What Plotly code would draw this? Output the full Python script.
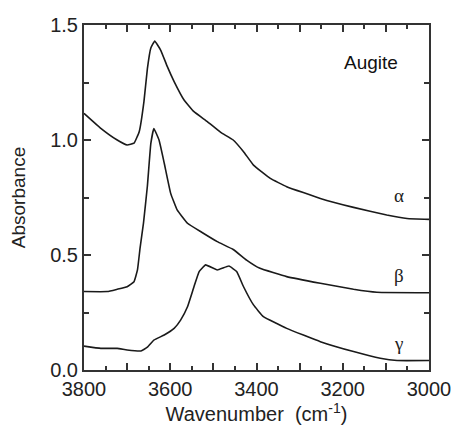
import plotly.graph_objects as go

# ---- data ----
alpha_wn = [3800, 3761, 3723, 3700, 3684, 3672, 3661, 3653, 3645, 3636, 3622, 3607,
            3591, 3568, 3545, 3514, 3483, 3454, 3430, 3407, 3368, 3330, 3252, 3175,
            3098, 3051, 3000]
alpha_abs = [1.116, 1.051, 1.000, 0.978, 0.986, 1.036, 1.167, 1.310, 1.400, 1.430, 1.390, 1.320,
             1.254, 1.174, 1.123, 1.080, 1.033, 1.000, 0.949, 0.891, 0.833, 0.797, 0.746, 0.707,
             0.674, 0.659, 0.655]

beta_wn = [3800, 3746, 3723, 3700, 3684, 3676, 3670, 3662, 3653, 3645, 3638, 3626,
           3614, 3599, 3584, 3560, 3529, 3491, 3454, 3423, 3392, 3330, 3252, 3175,
           3121, 3000]
beta_abs = [0.341, 0.341, 0.351, 0.362, 0.384, 0.435, 0.530, 0.640, 0.800, 0.985, 1.050, 1.000,
            0.900, 0.768, 0.696, 0.638, 0.601, 0.558, 0.524, 0.478, 0.442, 0.406, 0.377, 0.351,
            0.338, 0.336]

gamma_wn = [3800, 3761, 3723, 3700, 3668, 3653, 3638, 3614, 3591, 3576, 3560, 3545,
            3533, 3518, 3491, 3464, 3446, 3430, 3407, 3384, 3330, 3252, 3175, 3113,
            3074, 3000]
gamma_abs = [0.104, 0.094, 0.094, 0.087, 0.083, 0.099, 0.130, 0.152, 0.181, 0.217, 0.275, 0.362,
             0.428, 0.457, 0.435, 0.452, 0.428, 0.362, 0.283, 0.232, 0.181, 0.123, 0.080, 0.051,
             0.041, 0.041]

x_tickvals = [3800, 3600, 3400, 3200, 3000]
x_ticktext = ["3800", "3600", "3400", "3200", "3000"]
y_tickvals = [0.0, 0.5, 1.0, 1.5]
y_ticktext = ["0.0", "0.5", "1.0", "1.5"]

labels = ["α", "β", "γ"]
label_wn = [3070, 3070, 3070]
label_abs = [0.76, 0.41, 0.117]

title_text = "Augite"

fig = go.Figure()
for wn, ab in [(alpha_wn, alpha_abs), (beta_wn, beta_abs), (gamma_wn, gamma_abs)]:
    fig.add_trace(go.Scatter(x=wn, y=ab, mode="lines",
                             line=dict(color="#1a1a1a", width=1.6, shape="spline", smoothing=0.3),
                             showlegend=False, hoverinfo="skip"))

for t, xw, ya in zip(labels, label_wn, label_abs):
    fig.add_annotation(x=xw, y=ya, text=t, showarrow=False,
                       font=dict(family="Liberation Serif", size=19, color="#222"))

fig.add_annotation(x=3134, y=1.335, text=title_text, showarrow=False,
                   font=dict(family="Liberation Sans", size=19, color="#111"))

axis_common = dict(showline=True, linecolor="#333", linewidth=2, mirror="ticks",
                   ticks="inside", tickcolor="#333", tickwidth=1.5, showgrid=False,
                   zeroline=False, automargin=False,
                   tickfont=dict(family="Liberation Sans", size=20, color="#222"))

fig.update_layout(
    xaxis=dict(range=[3800, 3000], tickmode="array", tickvals=x_tickvals, ticktext=x_ticktext,
               ticklen=7,
               minor=dict(dtick=50, tick0=3000, ticks="inside", ticklen=4,
                          tickcolor="#333", tickwidth=1.5),
               title=dict(text="Wavenumber&nbsp;&nbsp;(cm<sup>-1</sup>)", standoff=8,
                          font=dict(family="Liberation Sans", size=20, color="#222")),
               **axis_common),
    # helper axis giving the longer ticks every 100 cm-1 (no labels)
    xaxis2=dict(range=[3800, 3000], overlaying="x", side="bottom", tickmode="linear",
                tick0=3000, dtick=100, ticks="inside", ticklen=7, tickcolor="#333",
                tickwidth=1.5, showticklabels=False, showline=False, mirror="ticks",
                showgrid=False, zeroline=False, automargin=False),
    yaxis=dict(range=[0, 1.5], tickmode="array", tickvals=y_tickvals, ticktext=y_ticktext,
               ticklen=7,
               minor=dict(dtick=0.25, tick0=0, ticks="inside", ticklen=5,
                          tickcolor="#333", tickwidth=1.5),
               title=dict(text="Absorbance", standoff=20,
                          font=dict(family="Liberation Sans", size=19, color="#222")),
               **axis_common),
)
fig.add_trace(go.Scatter(x=[3800, 3000], y=[0, 0], xaxis="x2", mode="lines",
                         line=dict(width=0), showlegend=False, hoverinfo="skip"))

fig.update_layout(width=454, height=426, margin=dict(l=84, r=25, t=25, b=56),
                  plot_bgcolor="white", paper_bgcolor="white")

fig.write_html("out.html", config={"displayModeBar": False},
               post_script="document.body.style.margin='0';document.body.style.overflow='hidden';")
